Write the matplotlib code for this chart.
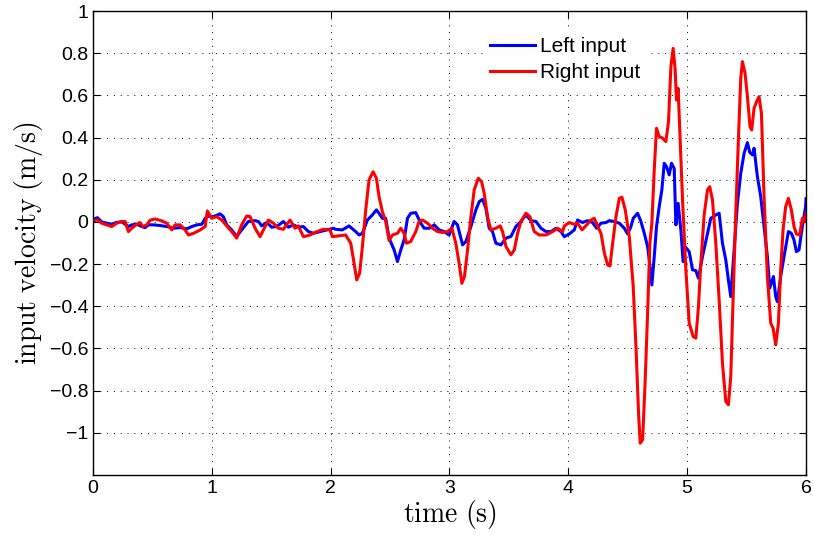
import numpy as np
import matplotlib
matplotlib.use('Agg')
import matplotlib.pyplot as plt

### Left input (blue) samples
t_left = [0.003, 0.037, 0.073, 0.115, 0.157, 0.2, 0.242, 0.27, 0.298, 0.326, 0.368, 0.41, 0.438,
          0.466, 0.508, 0.565, 0.62, 0.677, 0.733, 0.789, 0.831, 0.874, 0.916, 0.944, 0.971, 1.013,
          1.069, 1.097, 1.125, 1.167, 1.209, 1.251, 1.307, 1.364, 1.392, 1.42, 1.462, 1.504, 1.546,
          1.602, 1.644, 1.686, 1.728, 1.77, 1.813, 1.855, 1.911, 1.967, 2.023, 2.042, 2.098, 2.154,
          2.211, 2.239, 2.267, 2.309, 2.351, 2.385, 2.407, 2.435, 2.463, 2.492, 2.534, 2.562, 2.59,
          2.618, 2.646, 2.674, 2.716, 2.758, 2.787, 2.829, 2.871, 2.913, 2.955, 2.997, 3.039, 3.067,
          3.11, 3.138, 3.18, 3.222, 3.25, 3.278, 3.306, 3.334, 3.362, 3.39, 3.433, 3.475, 3.517,
          3.559, 3.601, 3.643, 3.685, 3.728, 3.77, 3.812, 3.854, 3.896, 3.938, 3.966, 4.008, 4.05,
          4.078, 4.12, 4.162, 4.204, 4.238, 4.275, 4.317, 4.345, 4.387, 4.429, 4.471, 4.499, 4.527,
          4.546, 4.583, 4.611, 4.639, 4.667, 4.681, 4.703, 4.723, 4.742, 4.765, 4.787, 4.807, 4.826,
          4.849, 4.868, 4.891, 4.905, 4.924, 4.947, 4.966, 4.983, 5.017, 5.045, 5.073, 5.095, 5.129,
          5.171, 5.199, 5.241, 5.269, 5.297, 5.325, 5.347, 5.367, 5.395, 5.423, 5.451, 5.479, 5.507,
          5.527, 5.549, 5.563, 5.591, 5.619, 5.647, 5.675, 5.695, 5.726, 5.745, 5.759, 5.787, 5.815,
          5.852, 5.877, 5.899, 5.919, 5.941, 5.969, 5.997, 6.0]
v_left = [0.013, 0.02, 0.0, -0.006, -0.011, -0.002, 0.0, -0.011, -0.022, -0.014, -0.011, -0.022, -0.027,
          -0.014, -0.014, -0.017, -0.022, -0.03, -0.027, -0.033, -0.022, -0.014, -0.011, 0.017, 0.028, 0.025,
          0.038, 0.025, -0.014, -0.038, -0.069, -0.038, 0.002, 0.006, 0.002, -0.019, -0.003, -0.025, -0.022,
          0.002, -0.025, -0.014, -0.025, -0.022, -0.046, -0.054, -0.046, -0.038, -0.03, -0.035, -0.038, -0.019,
          -0.046, -0.062, -0.054, 0.009, 0.033, 0.057, 0.041, 0.017, 0.017, -0.077, -0.133, -0.188, -0.133,
          -0.085, 0.017, 0.041, 0.044, -0.006, -0.03, -0.03, -0.014, -0.038, -0.046, -0.062, 0.002, -0.014,
          -0.109, -0.093, -0.022, 0.057, 0.096, 0.107, 0.065, -0.03, -0.046, -0.101, -0.109, -0.077, -0.069,
          -0.022, 0.002, 0.033, 0.006, 0.002, -0.03, -0.046, -0.046, -0.03, -0.046, -0.07, -0.057, -0.038,
          0.009, -0.003, 0.006, -0.003, -0.03, -0.006, -0.003, 0.006, 0.002, -0.006, -0.03, -0.057, -0.022,
          0.017, 0.041, 0.002, -0.054, -0.117, -0.18, -0.299, -0.164, -0.022, 0.073, 0.152, 0.278, 0.262,
          0.223, 0.278, 0.254, -0.014, 0.088, -0.038, -0.188, -0.117, -0.141, -0.227, -0.231, -0.267, -0.164,
          -0.054, 0.017, 0.033, 0.041, -0.101, -0.18, -0.275, -0.354, -0.133, 0.088, 0.231, 0.325, 0.376,
          0.329, 0.318, 0.349, 0.215, 0.12, -0.022, -0.164, -0.314, -0.259, -0.354, -0.378, -0.259, -0.164,
          -0.046, -0.054, -0.085, -0.141, -0.133, -0.022, 0.073, 0.11]

### Right input (red) samples
t_right = [0.003, 0.037, 0.073, 0.115, 0.157, 0.2, 0.242, 0.27, 0.298, 0.326, 0.354, 0.393, 0.421,
           0.452, 0.48, 0.522, 0.579, 0.62, 0.663, 0.691, 0.733, 0.775, 0.803, 0.846, 0.902, 0.944,
           0.962, 0.999, 1.041, 1.083, 1.125, 1.167, 1.209, 1.251, 1.293, 1.322, 1.364, 1.406, 1.448,
           1.476, 1.518, 1.56, 1.602, 1.658, 1.7, 1.728, 1.77, 1.827, 1.883, 1.939, 1.995, 2.014,
           2.07, 2.126, 2.169, 2.197, 2.219, 2.244, 2.267, 2.295, 2.323, 2.357, 2.385, 2.407, 2.435,
           2.463, 2.492, 2.52, 2.562, 2.59, 2.618, 2.638, 2.674, 2.716, 2.744, 2.772, 2.815, 2.857,
           2.899, 2.941, 2.983, 3.02, 3.053, 3.081, 3.104, 3.126, 3.152, 3.18, 3.208, 3.242, 3.27,
           3.292, 3.32, 3.348, 3.39, 3.427, 3.447, 3.475, 3.517, 3.545, 3.573, 3.601, 3.643, 3.677,
           3.713, 3.756, 3.812, 3.868, 3.91, 3.952, 3.966, 4.008, 4.05, 4.078, 4.115, 4.147, 4.19,
           4.218, 4.247, 4.275, 4.303, 4.331, 4.35, 4.373, 4.401, 4.429, 4.451, 4.479, 4.513, 4.546,
           4.569, 4.591, 4.605, 4.625, 4.647, 4.667, 4.686, 4.703, 4.723, 4.742, 4.765, 4.793, 4.821,
           4.843, 4.863, 4.882, 4.899, 4.91, 4.924, 4.938, 4.961, 4.989, 5.017, 5.05, 5.073, 5.095,
           5.115, 5.143, 5.171, 5.19, 5.213, 5.241, 5.269, 5.297, 5.325, 5.347, 5.367, 5.387, 5.409,
           5.431, 5.451, 5.465, 5.487, 5.507, 5.529, 5.543, 5.563, 5.583, 5.605, 5.625, 5.647, 5.675,
           5.703, 5.723, 5.745, 5.768, 5.787, 5.807, 5.829, 5.852, 5.877, 5.899, 5.919, 5.947, 5.969,
           5.989, 6.0]
v_right = [0.005, 0.009, -0.006, -0.014, -0.022, -0.006, 0.002, 0.002, -0.046, -0.03, -0.017, -0.003, -0.022,
           -0.014, 0.008, 0.014, 0.005, -0.006, -0.038, -0.014, -0.014, -0.038, -0.062, -0.054, -0.038, -0.022,
           0.052, 0.017, 0.025, 0.009, -0.019, -0.046, -0.077, -0.014, 0.028, 0.025, -0.03, -0.07, -0.022,
           0.009, -0.006, -0.03, -0.035, 0.009, -0.03, -0.019, -0.07, -0.062, -0.046, -0.035, -0.038, -0.07,
           -0.066, -0.062, -0.101, -0.196, -0.275, -0.243, -0.117, 0.057, 0.199, 0.238, 0.207, 0.12, 0.049,
           0.002, -0.088, -0.062, -0.054, -0.03, -0.054, -0.101, -0.093, -0.046, 0.002, 0.009, -0.006, -0.03,
           -0.046, -0.05, -0.046, -0.03, -0.101, -0.196, -0.291, -0.259, -0.133, 0.025, 0.152, 0.207, 0.191,
           0.136, 0.025, -0.038, -0.03, -0.019, -0.046, -0.117, -0.156, -0.133, -0.054, 0.002, 0.041, 0.025,
           -0.046, -0.062, -0.062, -0.046, -0.03, -0.046, -0.019, -0.003, -0.011, -0.006, -0.038, -0.019, 0.009,
           0.017, -0.022, -0.054, -0.148, -0.204, -0.209, -0.101, 0.025, 0.112, 0.117, 0.057, -0.07, -0.306,
           -0.591, -0.907, -1.049, -1.033, -0.749, -0.433, -0.101, -0.006, 0.246, 0.444, 0.405, 0.397, 0.381,
           0.476, 0.736, 0.823, 0.721, 0.578, 0.633, 0.436, 0.104, -0.227, -0.48, -0.543, -0.551, -0.401,
           -0.196, 0.033, 0.152, 0.167, 0.104, -0.101, -0.37, -0.67, -0.851, -0.867, -0.733, -0.354, 0.041,
           0.389, 0.681, 0.76, 0.705, 0.594, 0.452, 0.436, 0.539, 0.569, 0.594, 0.515, 0.12, -0.259,
           -0.48, -0.504, -0.583, -0.48, -0.227, -0.038, 0.073, 0.112, 0.057, -0.022, -0.057, -0.062, 0.017,
           0.002, 0.041]

x_ticks = [0, 1, 2, 3, 4, 5, 6]
y_ticks = [1, 0.8, 0.6, 0.4, 0.2, 0, -0.2, -0.4, -0.6, -0.8, -1]
y_tick_labels = ['1', '0.8', '0.6', '0.4', '0.2', '0', '\u22120.2', '\u22120.4', '\u22120.6', '\u22120.8', '\u22121']

plt.rcParams['mathtext.fontset'] = 'cm'
plt.rcParams['font.family'] = ['Liberation Sans', 'DejaVu Sans']

fig = plt.figure(figsize=(8.14, 5.38), dpi=100)
ax = fig.add_axes([93/814, 63/538, 713/814, 464/538])

ax.plot(t_left, v_left, color='#0000ff', linewidth=2.2, label='Left input')
ax.plot(t_right, v_right, color='#ff0000', linewidth=2.2, label='Right input')

ax.set_xlim(0, 6)
ax.set_ylim(-1.2, 1)
ax.set_xticks(x_ticks)
ax.set_yticks(y_ticks)
ax.set_yticklabels(y_tick_labels)
ax.tick_params(direction='in', top=True, right=True, labelsize=14, length=5, width=0.8)
ax.grid(True, linestyle=(0, (1, 6)), color='black', linewidth=0.7)
for s in ax.spines.values():
    s.set_linewidth(1.0)

ax.set_xlabel(r'$\mathrm{time\ (s)}$', fontsize=20, labelpad=1)
ax.set_ylabel(r'$\mathrm{input\ velocity\ (m/s)}$', fontsize=20, labelpad=3)

leg = ax.legend(loc='upper left', bbox_to_anchor=(0.534, 0.98), fontsize=15, frameon=True,
                fancybox=False, edgecolor='white', facecolor='white', framealpha=1,
                handlelength=2.15, handletextpad=0.25, borderpad=0.3, labelspacing=0.35)

fig.savefig('out.png', dpi=100)
